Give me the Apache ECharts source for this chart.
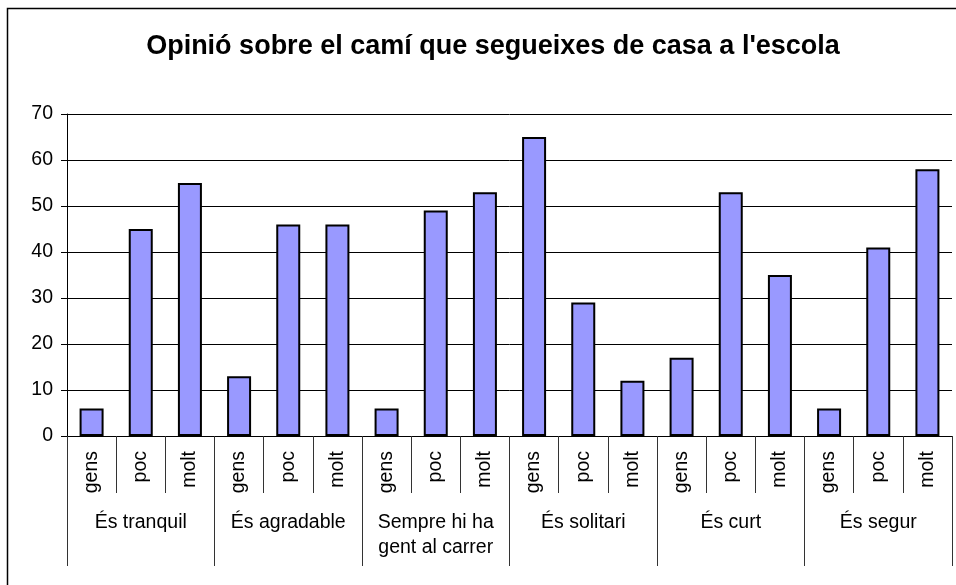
<!DOCTYPE html>
<html>
<head>
<meta charset="utf-8">
<script src="https://cdn.jsdelivr.net/npm/echarts@6/dist/echarts.min.js"></script>
<style>html,body{margin:0;padding:0;background:#fff;}#c{width:956px;height:585px;}</style>
</head>
<body>
<div id="c"></div>
<script>
const titleText = "Opinió sobre el camí que segueixes de casa a l'escola";
const groups = ['És tranquil', 'És agradable', 'Sempre hi ha\ngent al carrer', 'És solitari', 'És curt', 'És segur'];
const levels = ['gens', 'poc', 'molt'];
const valTranquil = [6, 45, 55];
const valAgradable = [13, 46, 46];
const valGent = [6, 49, 53];
const valSolitari = [65, 29, 12];
const valCurt = [17, 53, 35];
const valSegur = [6, 41, 58];
const yTicks = [0, 10, 20, 30, 40, 50, 60, 70];

const groupValues = [valTranquil, valAgradable, valGent, valSolitari, valCurt, valSegur];
const innerCats = [];
const barData = [];
groupValues.forEach(function (arr) {
  arr.forEach(function (v, i) { innerCats.push(levels[i]); barData.push(v); });
});

const font = 'Liberation Sans, Arial, sans-serif';
const chart = echarts.init(document.getElementById('c'), null, {renderer: 'canvas'});
chart.setOption({
  animation: false,
  backgroundColor: '#fff',
  title: {
    text: titleText,
    left: 488, top: 28, textAlign: 'center',
    textStyle: {fontFamily: font, fontSize: 27, fontWeight: 'bold', color: '#000'}
  },
  graphic: [{
    type: 'rect', shape: {x: 7.5, y: 8.5, width: 1000, height: 700},
    style: {fill: 'none', stroke: '#000', lineWidth: 1.5}, silent: true
  }],
  grid: {left: 67, right: 4, top: 114, bottom: 149},
  xAxis: [{
    type: 'category', data: innerCats, position: 'bottom',
    axisLine: {show: true, lineStyle: {color: '#000', width: 1}},
    axisTick: {show: true, interval: 0, length: 57, lineStyle: {color: '#333', width: 1}},
    axisLabel: {interval: 0, rotate: 90, margin: 15, fontFamily: font, fontSize: 19.5, color: '#000'},
    splitLine: {show: false}
  }, {
    type: 'category', data: groups, position: 'bottom', offset: 0,
    axisLine: {show: false},
    axisTick: {show: true, interval: 0, length: 130, lineStyle: {color: '#333', width: 1}},
    axisLabel: {interval: 0, margin: 74, fontFamily: font, fontSize: 19.5, lineHeight: 25, color: '#000'},
    splitLine: {show: false}
  }],
  yAxis: {
    type: 'value', min: yTicks[0], max: yTicks[yTicks.length - 1], interval: 10,
    axisLine: {show: true, lineStyle: {color: '#000', width: 1}},
    axisTick: {show: true, length: 6, lineStyle: {color: '#000'}},
    axisLabel: {margin: 14, fontFamily: font, fontSize: 19.5, color: '#000'},
    splitLine: {show: true, lineStyle: {color: '#000', width: 1}}
  },
  series: [{
    type: 'bar', xAxisIndex: 0, data: barData, barWidth: 24,
    itemStyle: {color: '#9999FF', borderColor: '#000', borderWidth: 2}
  }]
});
</script>
</body>
</html>
